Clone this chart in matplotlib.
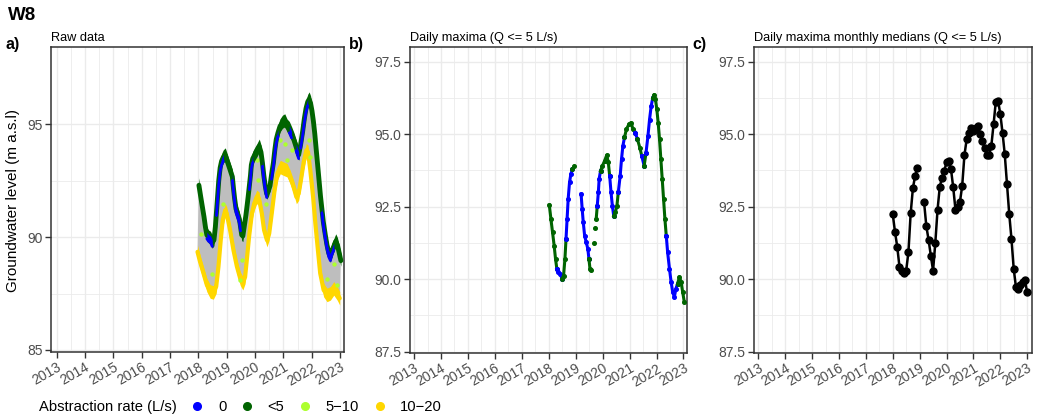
#! /usr/bin/env python3

"""
Groundwater level at W8: raw data, daily maxima and monthly medians of the daily maxima.
"""

import matplotlib
matplotlib.use('Agg')
import matplotlib.pyplot as plt
import numpy as np
import pandas as pd

from matplotlib.lines import Line2D

plt.rcParams['font.family'] = ['Liberation Sans', 'DejaVu Sans']

RATE_COLORS = {'0': '#0000FF', '<5': '#006400', '5-10': '#ADFF2F', '10-20': '#FFD700'}
RATE_LABELS = ['0', '<5', '5\u221210', '10\u221220']
BAND_COLOR = '#BEBEBE'
TICK_COLOR = '#4D4D4D'
FRAME_COLOR = '#333333'
GRID_COLOR = '#EBEBEB'

# vertical spread of the raw points around each traced edge (m)
LOW_SPREAD = 0.3
TOP_SPREAD = (0.5, 0.08)
ZERO_SPREAD = (0.42, 0.12)

YEARS = list(range(2013, 2024))

# daily maxima for Q <= 5 L/s (decimal year); NaN rows mark gaps in the record
DMAX_YEAR = [
    2018.02, 2018.08, 2018.14, 2018.20, 2018.25, 2018.30, 2018.36, 2018.43, 2018.49, 2018.55,
    2018.60, 2018.64, 2018.68, 2018.72, 2018.77, 2018.82, 2018.88, 2018.95, np.nan,
    2019.20, 2019.24, 2019.28, 2019.33, 2019.39, 2019.45, 2019.49, 2019.53, 2019.57, np.nan,
    2019.68, np.nan, 2019.73, np.nan,
    2019.76, 2019.80, 2019.84, 2019.87, 2019.92, 2019.99, 2020.07, 2020.15, 2020.21, 2020.26,
    2020.31, 2020.36, 2020.41, 2020.47, 2020.53, 2020.58, 2020.65, 2020.70, 2020.75, 2020.81,
    2020.88, 2020.97, 2021.05, 2021.13, 2021.21, 2021.29, 2021.38, 2021.45, 2021.54, 2021.61,
    2021.68, 2021.74, 2021.80, 2021.86, 2021.91, 2021.96, 2022.01, 2022.06, 2022.11, 2022.16,
    2022.21, 2022.26, 2022.31, 2022.36, 2022.41, 2022.48, 2022.54, 2022.60, 2022.66, 2022.72,
    2022.78, 2022.85, 2022.91, 2022.97, 2023.03,
]
DMAX_LEVEL = [
    92.55, 92.07, 91.61, 91.15, 90.70, 90.35, 90.24, 90.18, 90.01, 90.12,
    90.70, 91.38, 92.07, 92.76, 93.33, 93.62, 93.79, 93.88, np.nan,
    92.93, 92.41, 91.96, 91.50, 91.27, 91.04, 90.70, 90.35, 90.30, np.nan,
    91.24, np.nan, 91.75, np.nan,
    92.07, 92.53, 92.99, 93.45, 93.73, 93.90, 94.07, 94.27, 94.02, 93.56,
    92.99, 92.53, 92.18, 92.30, 92.53, 92.99, 93.56, 94.13, 94.59, 94.88,
    95.16, 95.33, 95.39, 95.16, 95.05, 94.82, 94.53, 94.25, 93.90, 94.36,
    94.93, 95.50, 95.96, 96.25, 96.36, 96.19, 95.85, 95.39, 94.82, 94.13,
    93.45, 92.76, 92.07, 91.50, 90.93, 90.35, 89.90, 89.55, 89.38, 89.67,
    89.84, 90.07, 89.90, 89.55, 89.21,
]
DMAX_RATE = [
    '<5', '<5', '<5', '<5', '<5', '0', '0', '0', '<5', '<5',
    '<5', '0', '0', '0', '0', '0', '<5', '<5', '',
    '0', '0', '0', '0', '0', '0', '<5', '<5', '<5', '',
    '<5', '', '<5', '',
    '<5', '0', '0', '0', '<5', '<5', '<5', '<5', '<5', '0',
    '0', '0', '<5', '<5', '<5', '0', '0', '0', '0', '<5',
    '<5', '<5', '<5', '<5', '0', '<5', '<5', '0', '<5', '0',
    '0', '0', '0', '<5', '<5', '<5', '<5', '<5', '<5', '<5',
    '<5', '<5', '<5', '0', '0', '0', '0', '0', '0', '0',
    '<5', '<5', '<5', '<5', '<5',
]

# raw data, lower edge (abstraction 10-20 L/s)
LOW_YEAR = [
    2017.97, 2018.06, 2018.18, 2018.30, 2018.42, 2018.53, 2018.63, 2018.71, 2018.79, 2018.86,
    2018.95, 2019.00, 2019.12, 2019.24, 2019.36, 2019.48, 2019.57, 2019.65, 2019.71, 2019.79,
    2019.89, 2019.97, 2020.06, 2020.14, 2020.24, 2020.32, 2020.42, 2020.50, 2020.59, 2020.69,
    2020.79, 2020.89, 2021.00, 2021.13, 2021.24, 2021.36, 2021.46, 2021.54, 2021.62, 2021.72,
    2021.81, 2021.87, 2021.95, 2022.05, 2022.13, 2022.22, 2022.30, 2022.42, 2022.54, 2022.66,
    2022.78, 2022.90, 2022.99,
]
LOW_LEVEL = [
    89.35, 88.91, 88.40, 87.88, 87.59, 87.55, 87.81, 88.70, 89.87, 90.76,
    91.20, 91.05, 90.31, 89.42, 88.70, 88.16, 87.96, 88.24, 88.99, 90.02,
    91.05, 91.49, 91.78, 91.71, 91.05, 90.31, 89.87, 90.16, 91.05, 92.08,
    92.82, 93.11, 93.04, 92.97, 92.67, 92.23, 91.78, 91.93, 92.53, 93.34,
    93.85, 93.78, 92.97, 91.78, 90.60, 89.42, 88.40, 87.66, 87.44, 87.51,
    87.73, 87.51, 87.29,
]

# raw data, scattered points at 5-10 L/s
MID_YEAR = [2018.09, 2018.48, 2018.86, 2019.47, 2019.53, 2020.06, 2020.09, 2020.39,
            2020.89, 2021.07, 2021.13, 2021.30, 2021.89, 2021.95, 2022.54, 2022.78, 2022.90]
MID_LEVEL = [90.13, 88.35, 91.49, 88.10, 88.99, 93.41, 92.53, 91.49,
             94.29, 94.12, 93.41, 93.85, 94.29, 93.56, 88.16, 88.82, 87.86]

# monthly medians of daily maxima
MED_MONTH = pd.period_range('2018-01', '2023-01', freq='M')
MED_LEVEL = [
    92.24, 91.63, 91.12, 90.43, 90.29, 90.22, 90.29, 90.92, 92.26, 93.13, 93.56, 93.83,
    np.nan, np.nan, 92.64, 91.82, 91.35, 90.81, 90.29, 91.24, 92.39, 93.18, 93.50, 93.73,
    94.02, 94.07, 93.79, 93.16, 92.39, 92.47, 92.66, 93.21, 94.27, 94.82, 95.05, 95.22,
    95.10, 95.22, 95.28, 94.99, 94.76, 94.53, 94.27, 94.27, 94.59, 95.33, 96.11, 96.14,
    95.70, 95.05, 94.30, 93.27, 92.24, 91.38, 90.35, 89.72, 89.66, 89.80, 89.89, 89.95,
    89.55,
]


def style_axes(ax, ylim, yticks, yfmt, xlim):
    """ggplot theme_bw look"""
    ax.set_xlim(*xlim)
    ax.set_ylim(*ylim)
    ax.set_xticks(YEARS)
    ax.set_xticklabels([str(y) for y in YEARS], rotation=30, ha='right', va='top',
                       rotation_mode='anchor')
    ax.set_xticks([y + 0.5 for y in YEARS[:-1]], minor=True)
    ax.set_yticks(yticks)
    ax.set_yticklabels([yfmt.format(v) for v in yticks])
    step = yticks[1] - yticks[0]
    ax.set_yticks([v + step / 2 for v in yticks[:-1]], minor=True)
    ax.tick_params(which='major', length=4, width=1, color=FRAME_COLOR,
                   labelcolor=TICK_COLOR, labelsize=10, pad=2)
    ax.tick_params(which='minor', length=0)
    ax.grid(which='major', color=GRID_COLOR, lw=1.0, zorder=0)
    ax.grid(which='minor', color=GRID_COLOR, lw=0.6, zorder=0)
    ax.set_axisbelow(True)
    for spine in ax.spines.values():
        spine.set_color(FRAME_COLOR)
        spine.set_linewidth(1.1)


def runs(df):
    """Split a series into consecutive runs of the same abstraction class"""
    out = []
    block = (df['rate'] != df['rate'].shift()).cumsum()
    for _, part in df.groupby(block, sort=False):
        rate = part['rate'].iloc[0]
        if rate == '':
            continue
        end = part.index[-1] + 1
        if end in df.index and df.loc[end, 'rate'] != '':
            part = pd.concat([part, df.loc[[end]]])
        out.append((rate, part))
    return out


def main() -> None:
    dmax = pd.DataFrame({'year': DMAX_YEAR, 'level': DMAX_LEVEL, 'rate': DMAX_RATE})
    valid = dmax.dropna().reset_index(drop=True)
    low_year = np.array(LOW_YEAR)
    low_level = np.array(LOW_LEVEL)

    fig = plt.figure(figsize=(10.38, 4.19), dpi=100)
    ax_a = fig.add_axes([51 / 1038, 67 / 419, 293 / 1038, 305 / 419])
    ax_b = fig.add_axes([410 / 1038, 66 / 419, 277 / 1038, 306 / 419])
    ax_c = fig.add_axes([754 / 1038, 66 / 419, 278 / 1038, 306 / 419])

    # a) raw data
    band_x = np.concatenate([valid['year'].values, low_year[::-1]])
    band_y = np.concatenate([valid['level'].values, low_level[::-1]])
    ax_a.fill(band_x, band_y, color=BAND_COLOR, lw=0, zorder=2)
    ax_a.fill_between(low_year, low_level - LOW_SPREAD, low_level + LOW_SPREAD,
                      color=RATE_COLORS['10-20'], lw=0, zorder=3)
    ax_a.plot(low_year, low_level, color=RATE_COLORS['10-20'], lw=3,
              solid_capstyle='round', solid_joinstyle='round', zorder=3)
    ax_a.scatter(MID_YEAR, MID_LEVEL, s=10, color=RATE_COLORS['5-10'], lw=0, zorder=4)
    # the Q < 5 points form the upper edge all along, the Q = 0 points sit inside it
    green = RATE_COLORS['<5']
    ax_a.fill_between(valid['year'], valid['level'] - TOP_SPREAD[0],
                      valid['level'] + TOP_SPREAD[1], color=green, lw=0, zorder=5)
    ax_a.plot(valid['year'], valid['level'] - TOP_SPREAD[0] / 2, color=green, lw=3.5,
              solid_capstyle='round', solid_joinstyle='round', zorder=5)
    for rate, part in runs(valid):
        if rate != '0':
            continue
        blue = RATE_COLORS['0']
        ax_a.fill_between(part['year'], part['level'] - ZERO_SPREAD[0],
                          part['level'] - ZERO_SPREAD[1], color=blue, lw=0, zorder=6)
        ax_a.plot(part['year'], part['level'] - ZERO_SPREAD[0], color=blue, lw=2,
                  solid_capstyle='round', zorder=6)
    style_axes(ax_a, (84.91, 98.43), [85, 90, 95], '{:.0f}', (2012.8, 2023.14))
    ax_a.set_title('Raw data', loc='left', fontsize=9.2, pad=4)

    # b) daily maxima
    for rate, part in runs(dmax):
        ax_b.plot(part['year'], part['level'], color=RATE_COLORS[rate], lw=2.2,
                  marker='o', ms=2.6, zorder=3)
    style_axes(ax_b, (87.45, 98.0), [87.5, 90.0, 92.5, 95.0, 97.5], '{:.1f}', (2012.85, 2023.13))
    ax_b.set_title('Daily maxima (Q <= 5 L/s)', loc='left', fontsize=9.2, pad=4)

    # c) monthly medians
    med_x = MED_MONTH.year + (MED_MONTH.month - 1) / 12
    ax_c.plot(med_x, MED_LEVEL, color='black', lw=1.8, marker='o', ms=5, zorder=3)
    style_axes(ax_c, (87.45, 98.0), [87.5, 90.0, 92.5, 95.0, 97.5], '{:.1f}', (2012.84, 2023.18))
    ax_c.set_title('Daily maxima monthly medians (Q <= 5 L/s)', loc='left', fontsize=9.2, pad=4)

    fig.text(8 / 1038, 1 - 16 / 419, 'W8', fontsize=13.5, fontweight='bold', va='center')
    for x, letter in [(6, 'a)'), (349, 'b)'), (692, 'c)')]:
        fig.text(x / 1038, 1 - 44 / 419, letter, fontsize=11.5, fontweight='bold', va='center')
    fig.text(13 / 1038, 1 - 200 / 419, 'Groundwater level (m a.s.l)', fontsize=11,
             rotation=90, va='center', ha='center')

    # legend
    fig.text(39 / 1038, 1 - 407 / 419, 'Abstraction rate (L/s)', fontsize=10.6, va='center')
    handles = [Line2D([], [], ls='', marker='o', ms=5.5, color=RATE_COLORS[k])
               for k in ['0', '<5', '5-10', '10-20']]
    fig.legend(handles, RATE_LABELS, ncol=4, loc='center left', frameon=False,
               bbox_to_anchor=(190 / 1038, 1 - 407 / 419), fontsize=10.6,
               handlelength=1.0, handletextpad=0.9, columnspacing=0.9,
               borderpad=0, borderaxespad=0)

    fig.savefig('out.png', dpi=100)


if __name__ == '__main__':
    main()
